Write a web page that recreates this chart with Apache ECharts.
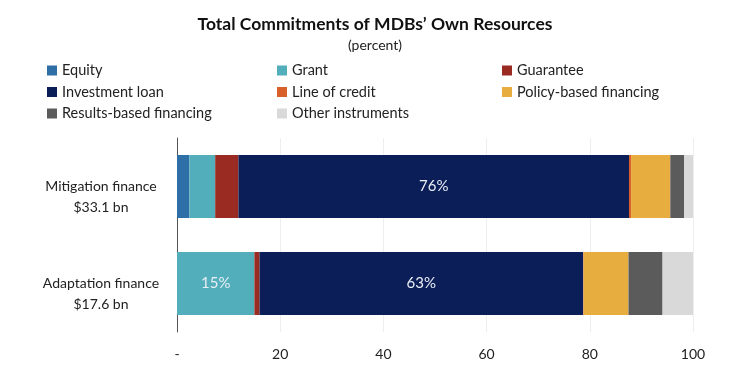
<!DOCTYPE html>
<html>
<head>
<meta charset="utf-8">
<script src="https://cdn.jsdelivr.net/npm/echarts@6/dist/echarts.min.js"></script>
<style>
  html, body { margin: 0; padding: 0; background: #fff; }
  #chart { width: 750px; height: 375px; }
</style>
</head>
<body>
<div id="chart"></div>
<script>
// categories (top to bottom)
const categories = ["Mitigation finance\n$33.1 bn", "Adaptation finance\n$17.6 bn"];

// share of each instrument, percent: [mitigation, adaptation]
const equity = [2.4, 0];
const grant = [5.0, 15.0];
const guarantee = [4.5, 1.0];
const investmentLoan = [75.7, 62.7];
const lineOfCredit = [0.4, 0.1];
const policyBased = [7.6, 8.7];
const resultsBased = [2.7, 6.6];
const otherInstruments = [1.7, 5.9];

// x axis ticks
const xTicks = [0, 20, 40, 60, 80, 100];

const seriesList = [
  { name: "Equity", data: equity, color: "#2f6fa7" },
  { name: "Grant", data: grant, color: "#52aeba" },
  { name: "Guarantee", data: guarantee, color: "#992b22" },
  { name: "Investment loan", data: investmentLoan, color: "#0b1e58" },
  { name: "Line of credit", data: lineOfCredit, color: "#d8612b" },
  { name: "Policy-based financing", data: policyBased, color: "#e8ad3f" },
  { name: "Results-based financing", data: resultsBased, color: "#5b5b5b" },
  { name: "Other instruments", data: otherInstruments, color: "#d9d9d9" }
];

const legendCols = [
  ["Equity", "Investment loan", "Results-based financing"],
  ["Grant", "Line of credit", "Other instruments"],
  ["Guarantee", "Policy-based financing"]
];
const legendLeft = [47, 277, 502];

const font = "Lato, 'Noto Sans', sans-serif";

const myChart = echarts.init(document.getElementById("chart"));

const option = {
  animation: false,
  title: [
    {
      text: "Total Commitments of MDBs\u2019 Own Resources",
      left: "center",
      top: 10,
      textStyle: { fontFamily: font, fontSize: 17.5, fontWeight: "bold", color: "#111" }
    },
    {
      text: "(percent)",
      left: "center",
      top: 33,
      textStyle: { fontFamily: font, fontSize: 14, fontWeight: "normal", color: "#222" }
    }
  ],
  legend: legendCols.map((col, i) => ({
    data: col,
    orient: "vertical",
    left: legendLeft[i],
    top: 63,
    padding: 0,
    itemGap: 6.5,
    itemWidth: 10,
    itemHeight: 10,
    icon: "rect",
    textStyle: { fontFamily: font, fontSize: 14.5, color: "#222" },
    selectedMode: false
  })),
  grid: { left: 177, right: 57, top: 138, bottom: 43 },
  xAxis: {
    type: "value",
    min: 0,
    max: 100,
    interval: 20,
    axisLine: { show: false },
    axisTick: { show: false },
    splitLine: { show: true, lineStyle: { color: "#eeeeee", width: 1 } },
    axisLabel: {
      margin: 15,
      fontFamily: font,
      fontSize: 14,
      color: "#222",
      formatter: (v) => (v === xTicks[0] ? "-" : String(v))
    }
  },
  yAxis: {
    type: "category",
    inverse: true,
    data: categories,
    axisLine: { show: true, lineStyle: { color: "#555", width: 1 } },
    axisTick: { show: false },
    axisLabel: {
      margin: 20,
      align: "center",
      padding: [0, 0, 0, -112],
      fontFamily: font,
      fontSize: 14,
      lineHeight: 21,
      color: "#222",
      // empty first line pushes the two-line label below the bar centre
      formatter: (v) => " \n" + v
    }
  },
  series: seriesList.map((s) => ({
    name: s.name,
    type: "bar",
    stack: "total",
    barWidth: 63,
    data: s.data,
    itemStyle: { color: s.color },
    label: {
      show: true,
      position: "inside",
      fontFamily: font,
      fontSize: 15,
      color: "#e8eef5",
      formatter: (p) => (p.value >= 10 ? Math.round(p.value) + "%" : "")
    }
  }))
};

myChart.setOption(option);
</script>
</body>
</html>
